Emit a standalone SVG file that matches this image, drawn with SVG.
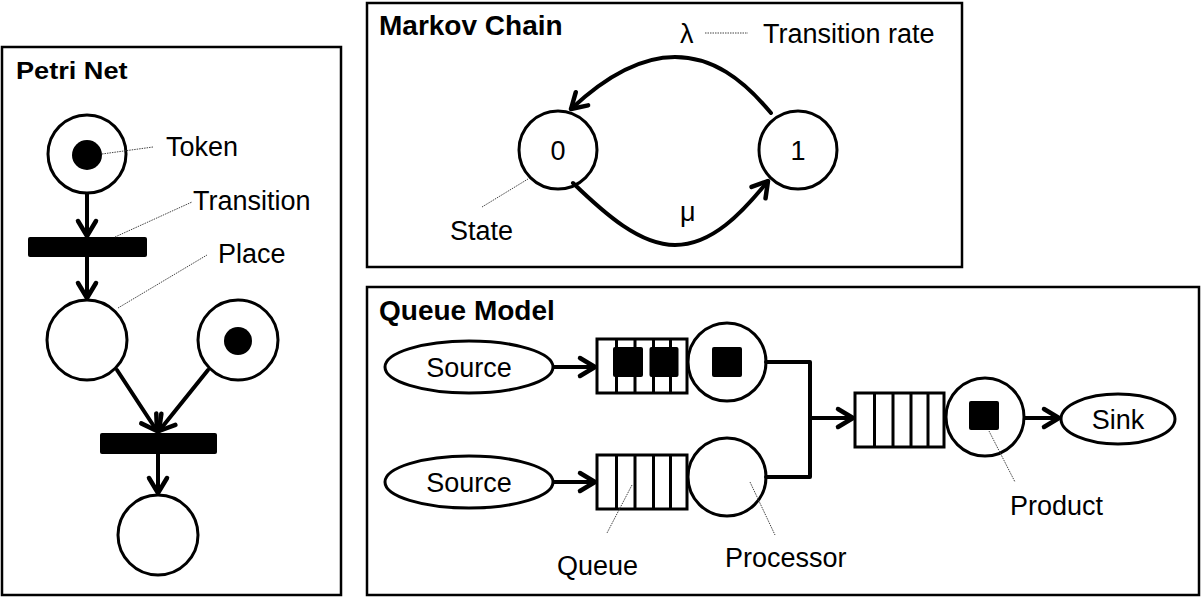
<svg xmlns="http://www.w3.org/2000/svg" width="1201" height="597" viewBox="0 0 1201 597">
  <style>
    text { font-family: "Liberation Sans", Arial, sans-serif; fill: #000; }
    .title { font-size: 28px; font-weight: bold; }
    .lbl { font-size: 27px; }
    .mid { text-anchor: middle; }
    .panel { fill: #fff; stroke: #000; stroke-width: 2.5; }
    .shape { fill: #fff; stroke: #000; stroke-width: 3; }
    .solid { fill: #000; }
    .edge { fill: none; stroke: #000; stroke-width: 4; stroke-linecap: round; stroke-linejoin: round; }
    .arrow { marker-end: url(#chev); }
    .lead { fill: none; stroke: #444; stroke-width: 1; stroke-dasharray: 1.5 1; }
    .cell { stroke: #000; stroke-width: 3; }
  </style>
  <defs>
    <marker id="chev" markerUnits="userSpaceOnUse" markerWidth="40" markerHeight="40" viewBox="-20 -20 40 40" refX="0" refY="0" orient="auto">
      <path d="M-15,-9 L0,0 L-15,9" fill="none" stroke="#000" stroke-width="4.5" stroke-linecap="round" stroke-linejoin="round"/>
    </marker>
  </defs>

  <rect width="1201" height="597" fill="#fff"/>

  <!-- Petri net panel -->
  <g id="petri-panel">
    <rect class="panel" x="2" y="47" width="339" height="548"/>
    <text class="title" x="0" y="79" transform="translate(16 0) scale(1.18 1)" style="font-size:23px">Petri Net</text>
  </g>
  <g id="place-top">
    <circle class="shape" cx="87" cy="154" r="39"/>
    <circle class="solid" cx="87" cy="155" r="15"/>
  </g>
  <g id="transition-1">
    <rect class="solid" x="28" y="237" width="119" height="20" rx="2"/>
  </g>
  <g id="place-left">
    <circle class="shape" cx="87" cy="340" r="40"/>
  </g>
  <g id="place-right">
    <circle class="shape" cx="238" cy="340" r="40"/>
    <circle class="solid" cx="238" cy="341" r="14"/>
  </g>
  <g id="transition-2">
    <rect class="solid" x="100" y="433" width="117" height="21" rx="2"/>
  </g>
  <g id="place-bottom">
    <circle class="shape" cx="158" cy="535" r="40"/>
  </g>
  <g id="petri-labels">
    <path class="lead" d="M102,154 L153,147"/>
    <text class="lbl" x="166" y="156">Token</text>
    <path class="lead" d="M115,237 L192,202"/>
    <text class="lbl" x="193" y="210">Transition</text>
    <path class="lead" d="M118,308 L207,255"/>
    <text class="lbl" x="218" y="263">Place</text>
  </g>

  <!-- Markov chain panel -->
  <g id="markov-panel">
    <rect class="panel" x="367" y="3" width="595" height="264"/>
    <text class="title" x="379" y="35">Markov Chain</text>
  </g>
  <g id="state-0">
    <circle class="shape" cx="558" cy="150" r="39"/>
    <text class="lbl mid" x="558" y="160">0</text>
  </g>
  <g id="state-1">
    <circle class="shape" cx="798" cy="150" r="39"/>
    <text class="lbl mid" x="798" y="160">1</text>
  </g>
  <g id="markov-labels">
    <text class="lbl" x="680" y="43">λ</text>
    <path class="lead" d="M705,33 L748,33"/>
    <text class="lbl" x="763" y="43">Transition rate</text>
    <text class="lbl" x="680" y="221">μ</text>
    <path class="lead" d="M482,207 L528,179"/>
    <text class="lbl" x="450" y="240">State</text>
  </g>

  <!-- Queue model panel -->
  <g id="queue-panel">
    <rect class="panel" x="367" y="287" width="832" height="308"/>
    <text class="title" x="379" y="320">Queue Model</text>
  </g>
  <g id="source-1">
    <ellipse class="shape" cx="469" cy="367" rx="84" ry="26"/>
    <text class="lbl mid" x="469" y="377">Source</text>
  </g>
  <g id="source-2">
    <ellipse class="shape" cx="469" cy="482" rx="84" ry="26"/>
    <text class="lbl mid" x="469" y="492">Source</text>
  </g>
  <g id="queue-1">
    <rect class="shape" x="597" y="339" width="90" height="54"/>
    <path class="cell" d="M616.5,339 V393 M635,339 V393 M653.5,339 V393 M670.5,339 V393"/>
    <rect class="solid" x="613" y="347" width="30" height="30" rx="2"/>
    <rect class="solid" x="649.5" y="347" width="29" height="30" rx="2"/>
  </g>
  <g id="queue-2">
    <rect class="shape" x="597" y="455" width="90" height="54"/>
    <path class="cell" d="M616.5,455 V509 M635,455 V509 M653.5,455 V509 M670.5,455 V509"/>
  </g>
  <g id="processor-1">
    <circle class="shape" cx="727" cy="362" r="39"/>
    <rect class="solid" x="712" y="347" width="30" height="30" rx="2"/>
  </g>
  <g id="processor-2">
    <circle class="shape" cx="727" cy="477" r="39"/>
  </g>
  <g id="queue-3">
    <rect class="shape" x="855" y="393" width="89" height="54"/>
    <path class="cell" d="M874.5,393 V447 M893,393 V447 M911,393 V447 M928,393 V447"/>
  </g>
  <g id="processor-3">
    <circle class="shape" cx="985" cy="417" r="39"/>
    <rect class="solid" x="969" y="401" width="30" height="29" rx="2"/>
  </g>
  <g id="sink">
    <ellipse class="shape" cx="1118" cy="419" rx="57" ry="25"/>
    <text class="lbl mid" x="1118" y="429">Sink</text>
  </g>
  <g id="queue-labels">
    <path class="lead" d="M632,485 L607,533"/>
    <text class="lbl" x="557" y="575">Queue</text>
    <path class="lead" d="M750,482 L775,535"/>
    <text class="lbl" x="725" y="567">Processor</text>
    <path class="lead" d="M989,431 L1015,482"/>
    <text class="lbl" x="1010" y="515">Product</text>
  </g>

  <!-- connectors -->
  <g id="connectors">
    <path class="edge arrow" d="M87,194 L87,236"/>
    <path class="edge arrow" d="M87,257 L87,298"/>
    <path class="edge arrow" d="M117,370 L157,431"/>
    <path class="edge arrow" d="M208,370 L159,431"/>
    <path class="edge arrow" d="M158,454 L158,493"/>
    <path class="edge arrow" d="M771,113 C742,78 712,57 675,57 C637,57 602,80 571,109"/>
    <path class="edge arrow" d="M573,183 C605,214 640,245 675,245 C712,245 742,213 768,181"/>
    <path class="edge arrow" d="M554,367 L595,367"/>
    <path class="edge arrow" d="M554,482 L595,482"/>
    <path class="edge" d="M766,362 L810,362 L810,477 L766,477"/>
    <path class="edge arrow" d="M810,418 L853,418"/>
    <path class="edge arrow" d="M1025,418 L1059,418"/>
  </g>
</svg>
